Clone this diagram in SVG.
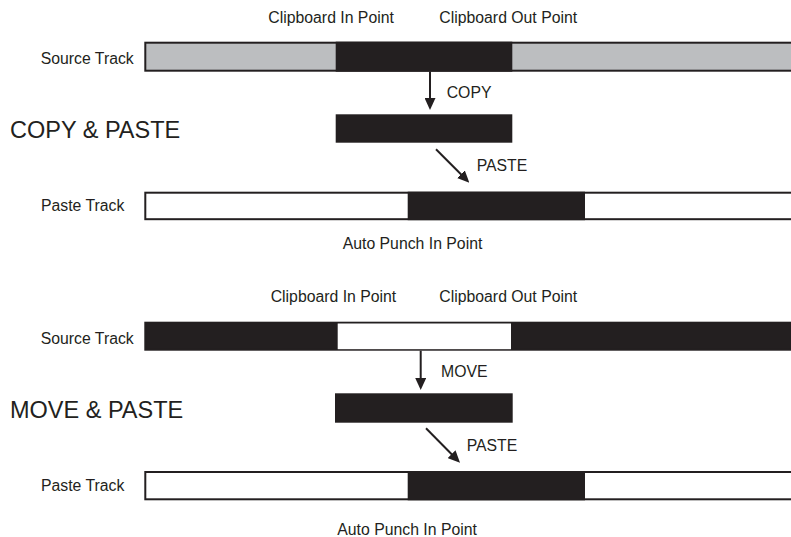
<svg xmlns="http://www.w3.org/2000/svg" width="791" height="537" viewBox="0 0 791 537">
<style>
text{font-family:"Liberation Sans",Arial,Helvetica,sans-serif;fill:#231f20}
.s{font-size:15.8px}
.t{font-size:23.5px}
.trk{stroke:#231f20;stroke-width:2}
.blk{fill:#231f20}
.conn{stroke:#231f20;stroke-width:2;fill:none;marker-end:url(#ah)}
</style>
<defs>
<marker id="ah" viewBox="0 0 12 11" refX="4" refY="5.5" markerWidth="12" markerHeight="11" markerUnits="userSpaceOnUse" orient="auto">
<path d="M0,0 L12,5.5 L0,11 z" fill="#231f20"/>
</marker>
</defs>
<rect width="791" height="537" fill="#ffffff"/>

<g id="copy-section">
<text class="t" x="10" y="138.3">COPY &amp; PASTE</text>
</g>
<g id="copy-labels">
<text class="s" x="268.3" y="22.7">Clipboard In Point</text>
<text class="s" x="439.3" y="22.7">Clipboard Out Point</text>
</g>
<g id="source-track-1">
<text class="s" x="40.7" y="64.3">Source Track</text>
<rect class="trk" x="145.3" y="42.7" width="660" height="28" fill="#bcbec0"/>
<rect class="blk" x="335.7" y="41.7" width="176.6" height="30"/>
</g>
<g id="clip-1">
<rect class="blk" x="335.7" y="114.3" width="176.6" height="28.4"/>
</g>
<g id="paste-track-1">
<text class="s" x="41" y="211">Paste Track</text>
<rect class="trk" x="145.3" y="192.7" width="660" height="26.5" fill="#ffffff"/>
<rect class="blk" x="407.7" y="191.7" width="177.3" height="28.5"/>
<text class="s" x="342.7" y="249.3">Auto Punch In Point</text>
</g>

<g id="move-section">
<text class="t" x="10" y="418.3">MOVE &amp; PASTE</text>
</g>
<g id="move-labels">
<text class="s" x="270.7" y="301.7">Clipboard In Point</text>
<text class="s" x="439.3" y="301.7">Clipboard Out Point</text>
</g>
<g id="source-track-2">
<text class="s" x="40.7" y="344">Source Track</text>
<rect class="trk" x="145.3" y="322.7" width="660" height="27" fill="#231f20"/>
<rect x="337.7" y="323.5" width="173.3" height="25.7" fill="#ffffff"/>
</g>
<g id="clip-2">
<rect class="blk" x="335" y="393.3" width="177.7" height="29.4"/>
</g>
<g id="paste-track-2">
<text class="s" x="41" y="491">Paste Track</text>
<rect class="trk" x="145.3" y="472" width="660" height="27.3" fill="#ffffff"/>
<rect class="blk" x="407.7" y="471" width="177.3" height="29.3"/>
<text class="s" x="337.3" y="535">Auto Punch In Point</text>
</g>

<g id="connectors">
<line class="conn" x1="430" y1="71.5" x2="430" y2="102"/>
<line class="conn" x1="436" y1="149.3" x2="463.7" y2="177"/>
<line class="conn" x1="420.7" y1="350.7" x2="420.7" y2="382"/>
<line class="conn" x1="426" y1="428.3" x2="454.4" y2="457"/>
</g>
<g id="connector-labels">
<text class="s" x="446.7" y="98.3">COPY</text>
<text class="s" x="476.7" y="170.7">PASTE</text>
<text class="s" x="441" y="377.3">MOVE</text>
<text class="s" x="466.7" y="450.7">PASTE</text>
</g>
</svg>
